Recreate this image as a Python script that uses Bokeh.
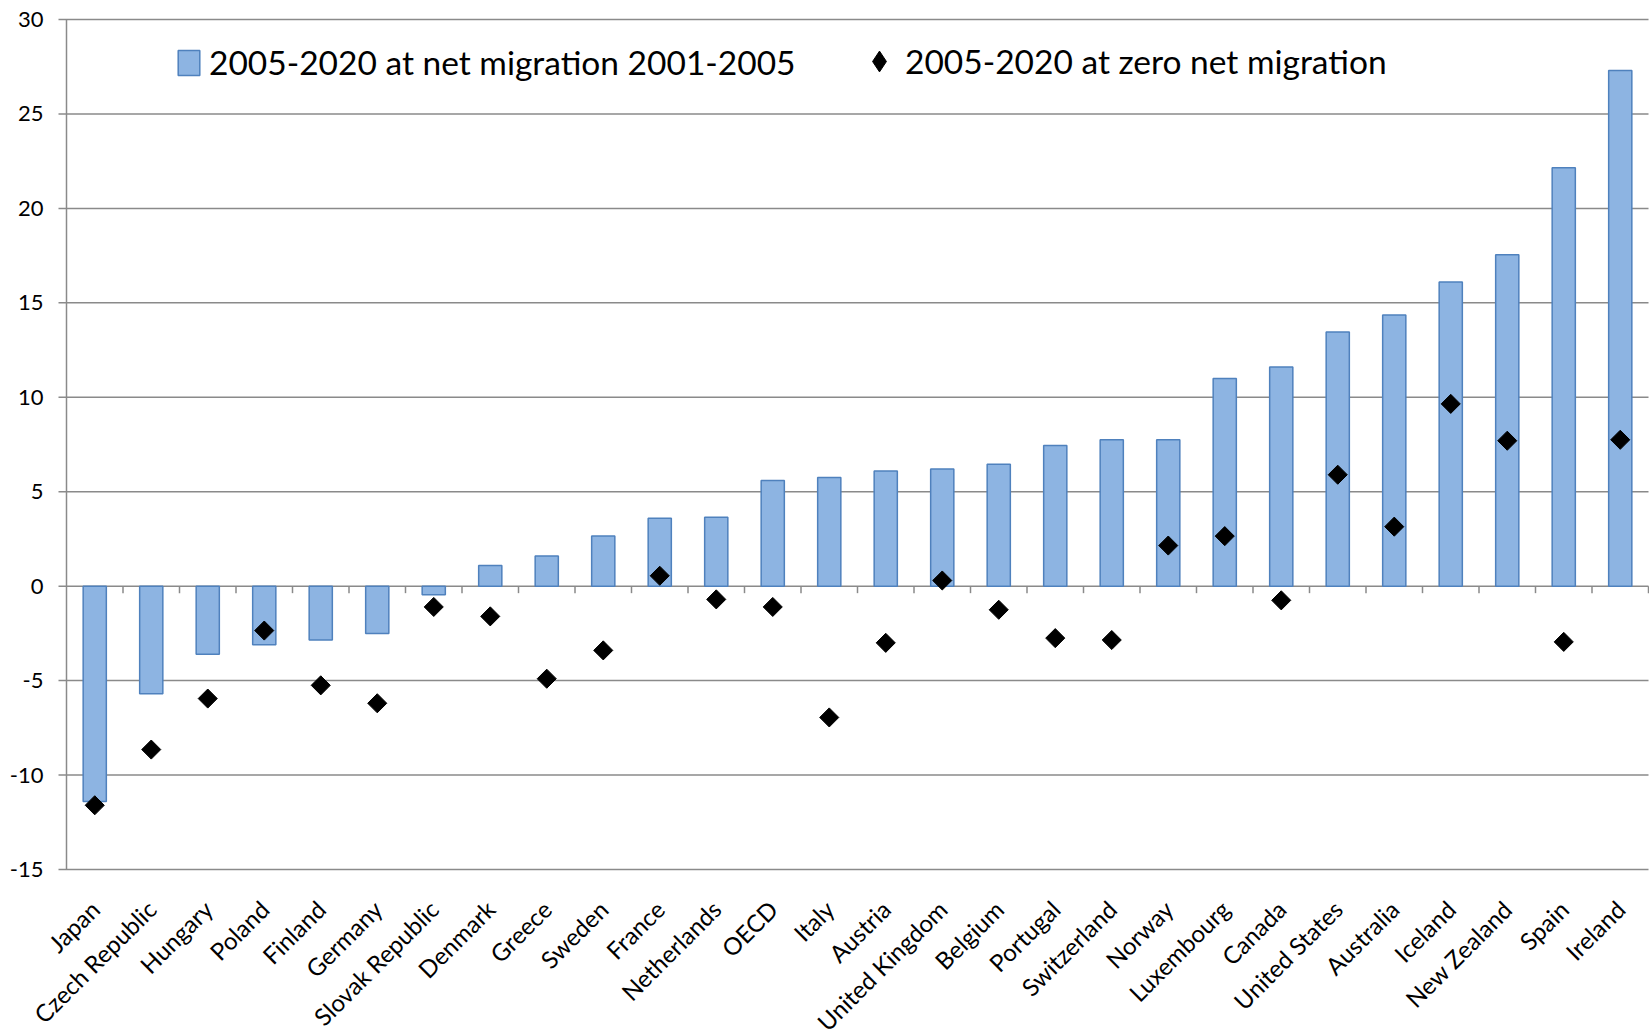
import math
from bokeh.plotting import figure
from bokeh.models import ColumnDataSource, Legend, LegendItem, Range1d, LabelSet
from bokeh.core.properties import value
from bokeh.embed import file_html
from bokeh.resources import INLINE

countries = ["Japan", "Czech Republic", "Hungary", "Poland", "Finland", "Germany",
             "Slovak Republic", "Denmark", "Greece", "Sweden", "France", "Netherlands",
             "OECD", "Italy", "Austria", "United Kingdom", "Belgium", "Portugal",
             "Switzerland", "Norway", "Luxembourg", "Canada", "United States",
             "Australia", "Iceland", "New Zealand", "Spain", "Ireland"]
net_migration = [-11.4, -5.7, -3.6, -3.1, -2.85, -2.5, -0.45, 1.1, 1.6, 2.65, 3.6, 3.65,
                 5.6, 5.75, 6.1, 6.2, 6.45, 7.45, 7.75, 7.75, 11.0, 11.6, 13.45,
                 14.35, 16.1, 17.55, 22.15, 27.3]
zero_migration = [-11.6, -8.65, -5.95, -2.35, -5.25, -6.2, -1.1, -1.6, -4.9, -3.4, 0.55, -0.7,
                  -1.1, -6.95, -3.0, 0.3, -1.25, -2.75, -2.85, 2.15, 2.65, -0.75, 5.9,
                  3.15, 9.65, 7.7, -2.95, 7.75]
y_ticks = [-15, -10, -5, 0, 5, 10, 15, 20, 25, 30]
Y_MIN, Y_MAX = -15, 30

FONT = "Lato"
GRID = "#8a8a8a"

# layout constants (pixels): the plotting area occupies the whole canvas, the value
# axis and the category names are drawn inside it
W, H = 1649, 1034
LEFT, RIGHT, TOP, FRAME_H = 66, 1, 19, 850
X0, X1 = -0.5, len(countries) - 0.5
px_per_cat = (W - LEFT - RIGHT) / (X1 - X0)
px_per_unit = FRAME_H / (Y_MAX - Y_MIN)
XL = X0 - LEFT / px_per_cat
XR = X1 + RIGHT / px_per_cat
Y_HIGH = Y_MAX + TOP / px_per_unit
Y_LOW = Y_MIN - (H - TOP - FRAME_H) / px_per_unit
TICK_PX = 8

idx = list(range(len(countries)))
src = ColumnDataSource(dict(x=idx, net=net_migration, zero=zero_migration,
                            name=countries, base=[Y_MIN] * len(countries)))
ysrc = ColumnDataSource(dict(y=y_ticks, label=[str(t) for t in y_ticks],
                             x0=[X0 - TICK_PX / px_per_cat] * len(y_ticks),
                             x1=[X1] * len(y_ticks), xa=[X0] * len(y_ticks)))

p = figure(width=W, height=H, output_backend="svg", toolbar_location=None,
           x_range=Range1d(XL, XR), y_range=Range1d(Y_LOW, Y_HIGH),
           min_border_left=0, min_border_top=0, min_border_right=0, min_border_bottom=0)
p.outline_line_color = None
p.background_fill_color = "white"
p.axis.visible = False
p.grid.grid_line_color = None

# value-axis gridlines (with their outer tick marks) and axis line
p.segment(x0="x0", y0="y", x1="x1", y1="y", source=ysrc, line_color=GRID, line_width=1.5)
p.segment(x0=[X0], y0=[Y_MIN], x1=[X0], y1=[Y_MAX], line_color=GRID, line_width=1.5)

bars = p.vbar(x="x", top="net", bottom=0, width=0.41, source=src,
              fill_color="#8DB4E2", line_color="#4F81BD", line_width=1.5)
pts = p.scatter(x="x", y="zero", source=src, marker="square", size=13.5, angle=math.pi / 4,
                fill_color="black", line_color="black", line_width=1)
# legend-only renderer for the diamond key
key = p.scatter(x=[float("nan")], y=[float("nan")], marker="diamond",
                fill_color="black", line_color="black")

# small tick marks on the zero line between categories
mid = [i + 0.5 for i in idx]
p.segment(x0=mid, y0=[0] * len(mid), x1=mid, y1=[-0.37] * len(mid),
          line_color=GRID, line_width=1.5)

# value-axis tick labels
p.add_layout(LabelSet(x="xa", y="y", text="label", source=ysrc, x_offset=-(TICK_PX + 15),
                      text_align="right", text_baseline="middle",
                      text_font=value(FONT), text_font_size="22px", text_color="black"))

# category names, rotated, under the value range
p.add_layout(LabelSet(x="x", y="base", text="name", source=src, angle=math.pi / 4,
                      x_offset=-10, y_offset=-25, text_align="right", text_baseline="top",
                      text_font=value(FONT), text_font_size="24px", text_color="black"))

common = dict(orientation="horizontal", border_line_color=None, background_fill_alpha=0,
              label_text_font=FONT, label_text_font_size="33.5px", label_text_color="black",
              padding=0, margin=0)
below = H - TOP - FRAME_H
leg1 = Legend(items=[LegendItem(label="2005-2020 at net migration 2001-2005", renderers=[bars])],
              location=(LEFT + 109, below + 787), glyph_width=27, glyph_height=31,
              label_standoff=7, **common)
leg2 = Legend(items=[LegendItem(label="2005-2020 at zero net migration", renderers=[key])],
              location=(LEFT + 787, below + 782), glyph_width=52, glyph_height=52,
              label_standoff=0, **common)
p.add_layout(leg1)
p.add_layout(leg2)

open("out.html", "w").write(file_html(p, INLINE))
